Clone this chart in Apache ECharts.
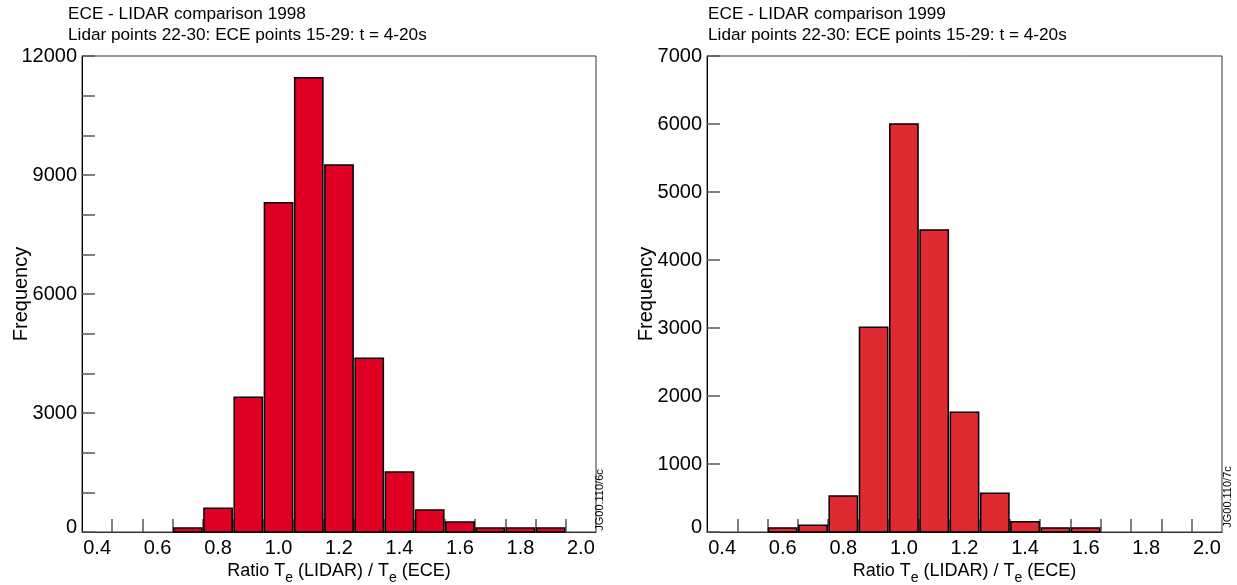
<!DOCTYPE html>
<html>
<head>
<meta charset="utf-8">
<script src="https://cdn.jsdelivr.net/npm/echarts@6/dist/echarts.min.js"></script>
<style>
html, body { margin: 0; padding: 0; background: #fff; }
#main { width: 1237px; height: 585px; }
</style>
</head>
<body>
<div id="main"></div>
<script>
// histogram bins (centre of each 0.1 wide bin) and counts
var binCenters1998 = [0.7, 0.8, 0.9, 1.0, 1.1, 1.2, 1.3, 1.4, 1.5, 1.6, 1.7, 1.8, 1.9];
var freq1998 = [100, 600, 3400, 8300, 11450, 9250, 4380, 1510, 555, 250, 100, 100, 100];
var binCenters1999 = [0.6, 0.7, 0.8, 0.9, 1.0, 1.1, 1.2, 1.3, 1.4, 1.5, 1.6];
var freq1999 = [60, 100, 530, 3010, 6000, 4440, 1760, 570, 150, 60, 60];

// axis ticks / labels
var xLabels = [0.4, 0.6, 0.8, 1.0, 1.2, 1.4, 1.6, 1.8, 2.0];
var xTicks = [0.45, 0.55, 0.65, 0.75, 0.85, 0.95, 1.05, 1.15, 1.25, 1.35, 1.45, 1.55, 1.65, 1.75, 1.85, 1.95];
var yLabels1998 = [0, 3000, 6000, 9000, 12000];
var yTicks1998 = [0, 1000, 2000, 3000, 4000, 5000, 6000, 7000, 8000, 9000, 10000, 11000, 12000];
var yLabels1999 = [0, 1000, 2000, 3000, 4000, 5000, 6000, 7000];

var titles = ['ECE - LIDAR comparison 1998', 'ECE - LIDAR comparison 1999'];
var subTitle = 'Lidar points 22-30: ECE points 15-29: t = 4-20s';
var codes = ['JG00.110/6c', 'JG00.110/7c'];
var binWidth = 0.1;

var FONT = 'Liberation Sans, Arial, sans-serif';

var chart = echarts.init(document.getElementById('main'));

var pairs = function (xs, ys) {
    var out = [];
    for (var i = 0; i < xs.length; i++) out.push([xs[i], ys[i]]);
    return out;
};

var barRenderer = function (color) {
    return function (params, api) {
        var x = api.value(0), y = api.value(1);
        var p0 = api.coord([x - binWidth / 2, y]);
        var p1 = api.coord([x + binWidth / 2, 0]);
        return {
            type: 'rect',
            shape: { x: p0[0] + 1, y: p0[1], width: p1[0] - p0[0] - 2, height: p1[1] - p0[1] },
            style: { fill: color, stroke: '#000', lineWidth: 1.5 }
        };
    };
};

var makeX = function (idx) {
    return {
        type: 'value', gridIndex: idx, min: 0.35, max: 2.05,
        name: 'Ratio T{sub|e} (LIDAR) / T{sub|e} (ECE)',
        nameLocation: 'middle', nameGap: 25, nameMoveOverlap: false,
        nameTextStyle: {
            fontFamily: FONT, fontSize: 18, color: '#000', lineHeight: 28,
            rich: { sub: { fontFamily: FONT, fontSize: 14, color: '#000', verticalAlign: 'bottom', lineHeight: 28 } }
        },
        axisLine: { lineStyle: { color: '#333', width: 1 } },
        axisTick: { customValues: xTicks, inside: true, length: 13, lineStyle: { color: '#555', width: 1.5 } },
        axisLabel: {
            customValues: xLabels, margin: 6, fontFamily: FONT, fontSize: 20, color: '#000',
            formatter: function (v) { return v.toFixed(1); }
        },
        splitLine: { show: false }
    };
};

var makeY = function (idx, max, labels, ticks) {
    return {
        type: 'value', gridIndex: idx, min: 0, max: max,
        name: 'Frequency', nameLocation: 'middle', nameGap: 51, nameMoveOverlap: false,
        nameTextStyle: { fontFamily: FONT, fontSize: 20, color: '#000' },
        axisLine: { show: true, lineStyle: { color: '#000', width: 1 } },
        axisTick: { customValues: ticks, inside: true, length: 13, lineStyle: { color: '#555', width: 1.5 } },
        axisLabel: {
            customValues: labels, margin: 5, fontFamily: FONT, fontSize: 20, color: '#000',
            formatter: function (v) { return v === 0 ? '{zero|0}' : String(v); },
            rich: { zero: { fontFamily: FONT, fontSize: 20, color: '#000', padding: [0, 0, 10, 0] } }
        },
        splitLine: { show: false }
    };
};

var titleStyle = { fontFamily: FONT, fontSize: 17.2, fontWeight: 'normal', color: '#000', lineHeight: 21 };

var option = {
    backgroundColor: '#fff',
    animation: false,
    title: [
        { text: titles[0] + '\n' + subTitle, left: 68, top: 4, padding: 0, textStyle: titleStyle },
        { text: titles[1] + '\n' + subTitle, left: 708, top: 4, padding: 0, textStyle: titleStyle }
    ],
    grid: [
        { left: 82, top: 56, width: 514, height: 476, show: true, borderColor: '#333', borderWidth: 1,
          outerBoundsMode: 'none', containLabel: false },
        { left: 707, top: 56, width: 515, height: 476, show: true, borderColor: '#333', borderWidth: 1,
          outerBoundsMode: 'none', containLabel: false }
    ],
    xAxis: [makeX(0), makeX(1)],
    yAxis: [makeY(0, 12000, yLabels1998, yTicks1998), makeY(1, 7000, yLabels1999, yLabels1999)],
    series: [
        { type: 'custom', xAxisIndex: 0, yAxisIndex: 0, renderItem: barRenderer('#DF0024'),
          data: pairs(binCenters1998, freq1998) },
        { type: 'custom', xAxisIndex: 1, yAxisIndex: 1, renderItem: barRenderer('#E02A32'),
          data: pairs(binCenters1999, freq1999) }
    ],
    graphic: [
        { type: 'text', x: 600, y: 500, rotation: Math.PI / 2,
          style: { text: codes[0], fontFamily: FONT, fontSize: 11, fill: '#000', align: 'center', verticalAlign: 'middle' } },
        { type: 'text', x: 1228, y: 497, rotation: Math.PI / 2,
          style: { text: codes[1], fontFamily: FONT, fontSize: 11, fill: '#000', align: 'center', verticalAlign: 'middle' } }
    ]
};

chart.setOption(option);
</script>
</body>
</html>
